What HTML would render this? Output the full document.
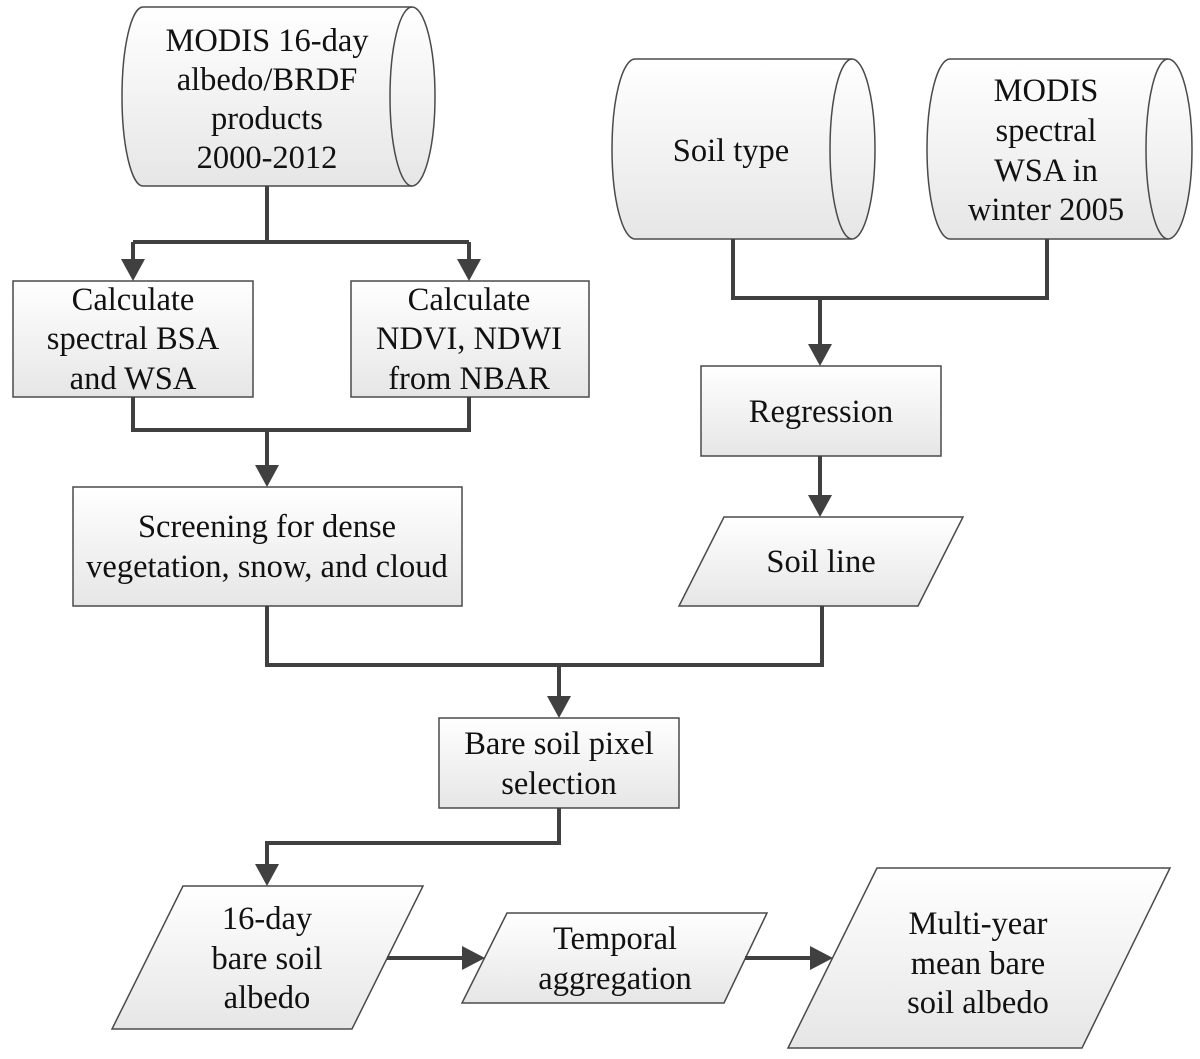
<!DOCTYPE html>
<html><head><meta charset="utf-8"><style>
html,body{margin:0;padding:0;background:#fff}
svg{display:block}
text{font-family:"Liberation Serif",serif;font-size:32.5px;fill:#111;text-anchor:middle}
</style></head><body>
<svg width="1200" height="1059" viewBox="0 0 1200 1059" xmlns="http://www.w3.org/2000/svg">
<defs>
<linearGradient id="g" x1="0" y1="0" x2="0" y2="1">
<stop offset="0" stop-color="#ffffff"/><stop offset="1" stop-color="#e6e6e6"/>
</linearGradient>
</defs>
<g fill="url(#g)" stroke="#4a4a4a" stroke-width="1.5">
<path d="M143,7 L412,7 A23,89.5 0 0 1 412,186 L143,186 A21,89.5 0 0 1 143,7 Z"/>
<path d="M412,7 A22,89.5 0 0 0 412,186" fill="none"/>
<path d="M635,59 L852,59 A23,90 0 0 1 852,239 L635,239 A23,90 0 0 1 635,59 Z"/>
<path d="M852,59 A22,90 0 0 0 852,239" fill="none"/>
<path d="M950,59 L1168,59 A24,90 0 0 1 1168,239 L950,239 A23,90 0 0 1 950,59 Z"/>
<path d="M1168,59 A22,90 0 0 0 1168,239" fill="none"/>
<rect x="13" y="281" width="240" height="116"/>
<rect x="351" y="281" width="238" height="116"/>
<rect x="73" y="487" width="389" height="119"/>
<rect x="701" y="366" width="240" height="90"/>
<rect x="439" y="718" width="240" height="90"/>
<polygon points="724,517 963,517 918,606 679,606"/>
<polygon points="183,886 423,886 352,1029 112,1029"/>
<polygon points="507,913 767,913 724,1003 462,1003"/>
<polygon points="877,868 1170,868 1082,1048 788,1048"/>
</g>
<g fill="none" stroke="#404040" stroke-width="4">
<path d="M267,186 V242 M133,242 H469 M133,242 V262 M469,242 V262"/>
<path d="M133,397 V430 H469 V397 M267,430 V468"/>
<path d="M733,239 V298 H1047 V239 M820,298 V347"/>
<path d="M820,456 V498"/>
<path d="M267,606 V665 H822 V606 M559,665 V699"/>
<path d="M559,808 V843 H267 V867"/>
<path d="M387,958 H465"/>
<path d="M745,958 H812"/>
</g>
<g fill="#404040">
<polygon points="121,259 145,259 133,281"/>
<polygon points="457,259 481,259 469,281"/>
<polygon points="255,465 279,465 267,487"/>
<polygon points="808,344 832,344 820,366"/>
<polygon points="808,495 832,495 820,517"/>
<polygon points="547,696 571,696 559,718"/>
<polygon points="255,864 279,864 267,886"/>
<polygon points="462,946 462,970 485,958"/>
<polygon points="810,946 810,970 833,958"/>
</g>
<g>
<text x="267" y="51">MODIS 16-day</text>
<text x="267" y="90">albedo/BRDF</text>
<text x="267" y="129">products</text>
<text x="267" y="168">2000-2012</text>
<text x="731" y="161">Soil type</text>
<text x="1046" y="101">MODIS</text>
<text x="1046" y="141">spectral</text>
<text x="1046" y="181">WSA in</text>
<text x="1046" y="220">winter 2005</text>
<text x="133" y="310">Calculate</text>
<text x="133" y="349">spectral BSA</text>
<text x="133" y="389">and WSA</text>
<text x="469" y="310">Calculate</text>
<text x="469" y="349">NDVI, NDWI</text>
<text x="469" y="389">from NBAR</text>
<text x="267" y="537">Screening for dense</text>
<text x="267" y="577">vegetation, snow, and cloud</text>
<text x="821" y="422">Regression</text>
<text x="821" y="572">Soil line</text>
<text x="559" y="754">Bare soil pixel</text>
<text x="559" y="794">selection</text>
<text x="267" y="929">16-day</text>
<text x="267" y="969">bare soil</text>
<text x="267" y="1008">albedo</text>
<text x="615" y="949">Temporal</text>
<text x="615" y="989">aggregation</text>
<text x="978" y="934">Multi-year</text>
<text x="978" y="974">mean bare</text>
<text x="978" y="1013">soil albedo</text>
</g>
</svg>
</body></html>
